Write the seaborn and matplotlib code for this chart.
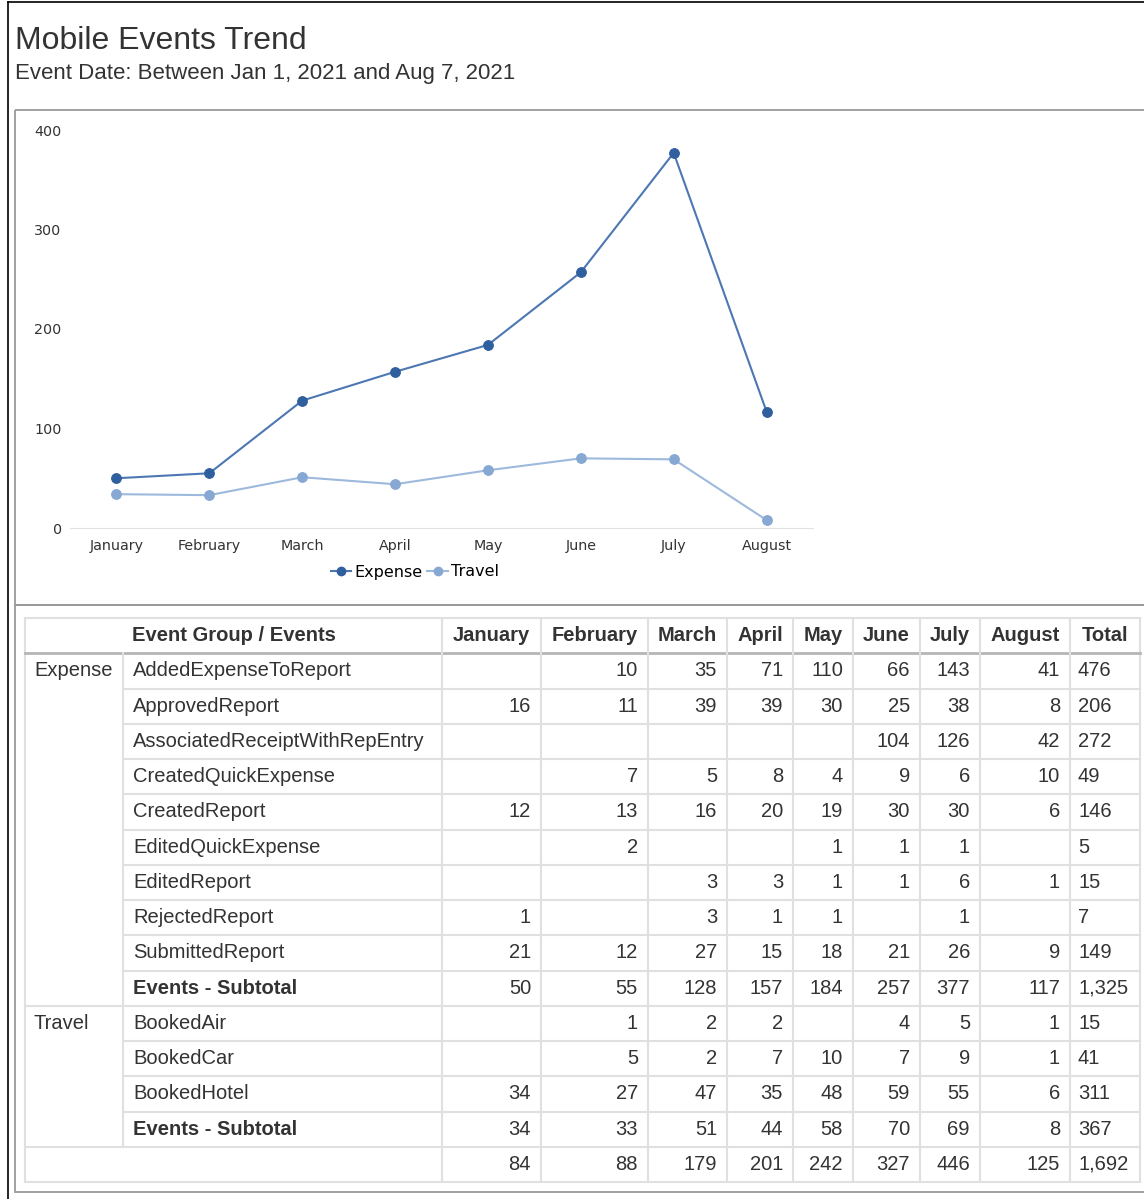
import numpy as np
import pandas as pd
import matplotlib
matplotlib.use("Agg")
import matplotlib.pyplot as plt
from matplotlib.lines import Line2D
from matplotlib.patches import Rectangle
import seaborn as sns

# data
months = ['January', 'February', 'March', 'April', 'May', 'June', 'July', 'August']

expense_events = ['AddedExpenseToReport', 'ApprovedReport', 'AssociatedReceiptWithRepEntry',
                  'CreatedQuickExpense', 'CreatedReport', 'EditedQuickExpense',
                  'EditedReport', 'RejectedReport', 'SubmittedReport']
expense_counts = [
    [None, 10, 35, 71, 110, 66, 143, 41],
    [16, 11, 39, 39, 30, 25, 38, 8],
    [None, None, None, None, None, 104, 126, 42],
    [None, 7, 5, 8, 4, 9, 6, 10],
    [12, 13, 16, 20, 19, 30, 30, 6],
    [None, 2, None, None, 1, 1, 1, None],
    [None, None, 3, 3, 1, 1, 6, 1],
    [1, None, 3, 1, 1, None, 1, None],
    [21, 12, 27, 15, 18, 21, 26, 9],
]

travel_events = ['BookedAir', 'BookedCar', 'BookedHotel']
travel_counts = [
    [None, 1, 2, 2, None, 4, 5, 1],
    [None, 5, 2, 7, 10, 7, 9, 1],
    [34, 27, 47, 35, 48, 59, 55, 6],
]

groups = {'Expense': (expense_events, expense_counts),
          'Travel': (travel_events, travel_counts)}
colors = {'Expense': '#2f5f9e', 'Travel': '#86a8d2'}
line_colors = {'Expense': '#4d77b3', 'Travel': '#9db9dc'}

# long table of events
records = []
for g, (names, counts) in groups.items():
    for name, row in zip(names, counts):
        for m, v in zip(months, row):
            if v is not None:
                records.append({'Group': g, 'Event': name, 'Month': m, 'Count': v})
df = pd.DataFrame(records)
df['MonthIdx'] = df['Month'].map({m: i for i, m in enumerate(months)})

trend = df.groupby(['Group', 'MonthIdx'], as_index=False)['Count'].sum()

W, H = 1144, 1199
fig = plt.figure(figsize=(W / 100, H / 100), dpi=100)
plt.rcParams['font.family'] = ['Liberation Sans', 'DejaVu Sans']

# background axes in pixel units for frame, titles and table
bg = fig.add_axes([0, 0, 1, 1])
bg.set_xlim(0, W)
bg.set_ylim(H, 0)
bg.axis('off')

bg.plot([8, 8], [2, H], color='black', lw=1.2)
bg.plot([8, W], [2, 2], color='black', lw=1.2)
bg.add_patch(Rectangle((15, 110), W, 495, fill=False, ec='#9a9a9a', lw=1.3))
bg.add_patch(Rectangle((15, 605), W, 587, fill=False, ec='#9a9a9a', lw=1.3))

bg.text(15, 41, 'Mobile Events Trend', fontsize=23, color='#333333', va='center', ha='left')
bg.text(15, 73, 'Event Date: Between Jan 1, 2021 and Aug 7, 2021', fontsize=16,
        color='#333333', va='center', ha='left')

# line chart
ax = fig.add_axes([70 / W, 1 - 528 / H, (813 - 70) / W, (528 - 130) / H])
for g in groups:
    sub = trend[trend['Group'] == g]
    sns.lineplot(data=sub, x='MonthIdx', y='Count', ax=ax, color=line_colors[g], lw=1.5,
                 marker='o', markersize=7, markerfacecolor=colors[g],
                 markeredgecolor=colors[g], legend=False, clip_on=False)
ax.set_xlim(-0.5, len(months) - 0.5)
ax.set_ylim(0, 400)
ax.set_xticks(range(len(months)))
ax.set_xticklabels(months, fontsize=10.3, color='#333333', family='DejaVu Sans')
ax.set_yticks([0, 100, 200, 300, 400])
ax.set_yticklabels(['0', '100', '200', '300', '400'], fontsize=10.3, color='#333333',
                   family='DejaVu Sans')
ax.tick_params(length=0, pad=8)
ax.tick_params(axis='y', pad=6)
ax.set_xlabel('')
ax.set_ylabel('')
for s in ['top', 'right', 'left']:
    ax.spines[s].set_visible(False)
ax.spines['bottom'].set_color('#e2e2e2')
ax.patch.set_alpha(0)

handles = [Line2D([0], [0], color=line_colors[g], lw=1.5, marker='o', markersize=6,
                  markerfacecolor=colors[g], markeredgecolor=colors[g]) for g in groups]
fig.legend(handles, list(groups), loc='center', bbox_to_anchor=(415 / W, 1 - 572 / H),
           ncol=2, frameon=False, handlelength=1.3, handletextpad=0.2,
           columnspacing=0.3, prop={'family': 'DejaVu Sans', 'size': 11.5})

# table
col_edges = [25, 123, 442, 541, 648, 727, 793, 853, 920, 980, 1070, 1140]
top = 618
rh = 35.25
txt_kw = dict(fontsize=14.5, color='#333333', va='center')
grid_c = '#e0e0e0'

rows = []  # (group label, event name, values, bold)
for g, (names, counts) in groups.items():
    for i, (name, row) in enumerate(zip(names, counts)):
        rows.append((g if i == 0 else '', name, row, False))
    sub = trend[trend['Group'] == g].set_index('MonthIdx')['Count']
    rows.append(('', 'Events - Subtotal', [sub.get(i) for i in range(len(months))], True))
grand = trend.groupby('MonthIdx')['Count'].sum()
rows.append(('', '', [grand.get(i) for i in range(len(months))], False))

n_rows = len(rows) + 1
bottom = top + n_rows * rh

# header
hy = top + rh / 2
bg.text((col_edges[0] + col_edges[2]) / 2, hy, 'Event Group / Events', ha='center',
        fontweight='bold', **txt_kw)
for j, m in enumerate(months + ['Total']):
    bg.text((col_edges[j + 2] + col_edges[j + 3]) / 2, hy, m, ha='center',
            fontweight='bold', **txt_kw)

for r, (g, name, vals, bold) in enumerate(rows):
    y = top + (r + 1.5) * rh
    if g:
        bg.text(col_edges[0] + 9, y, g, ha='left', **txt_kw)
    if name:
        bg.text(col_edges[1] + 10, y, name, ha='left',
                fontweight='bold' if bold else 'normal', **txt_kw)
    present = [v for v in vals if v is not None and not pd.isna(v)]
    for j, v in enumerate(vals):
        if v is not None and not pd.isna(v):
            bg.text(col_edges[j + 3] - 10, y, f'{int(v):,}', ha='right', **txt_kw)
    bg.text(col_edges[-2] + 8, y, f'{int(sum(present)):,}', ha='left', **txt_kw)

# grid lines
bg.add_patch(Rectangle((col_edges[0], top), col_edges[-1] - col_edges[0], bottom - top,
                       fill=False, ec=grid_c, lw=1.5))
bg.plot([col_edges[0], col_edges[-1]], [top + rh, top + rh], color='#b5b5b5', lw=2)
for x in col_edges[2:-1]:
    bg.plot([x, x], [top, bottom], color=grid_c, lw=1.5)
bg.plot([col_edges[1]] * 2, [top + rh, bottom - rh], color=grid_c, lw=1.5)
for r, (g, name, vals, bold) in enumerate(rows[:-1]):
    y = top + (r + 2) * rh
    x0 = col_edges[0] if bold else col_edges[1]
    bg.plot([x0, col_edges[-1]], [y, y], color=grid_c, lw=1.5)

fig.savefig('out.png', dpi=100)
